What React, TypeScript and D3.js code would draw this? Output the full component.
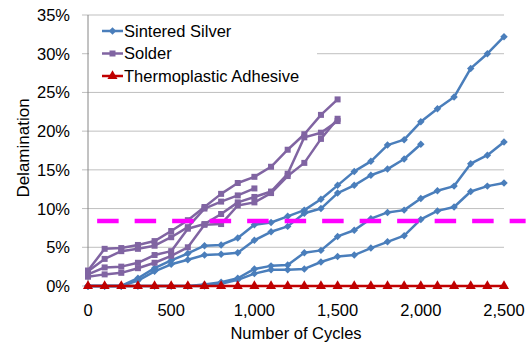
import React from "react";
import * as d3 from "d3";

const width = 531;
const height = 344;
const margin = { top: 15, right: 25, bottom: 58, left: 88 };

// cycles 0, 100, 200 ... per run
const silverRuns = [
  [0, 0, 0, 1.0, 2.3, 3.3, 4.2, 5.2, 5.3, 6.2, 7.9, 8.2, 9.0, 9.8, 11.2, 13.0, 14.8, 16.1, 18.2, 18.9, 21.2, 22.9, 24.4, 28.1, 30.0, 32.2],
  [0, 0, 0, 0.7, 1.9, 2.8, 3.4, 4.0, 4.1, 4.3, 5.9, 7.0, 7.7, 9.4, 10.0, 12.0, 13.0, 14.3, 15.1, 16.4, 18.3],
  [0, 0, 0, 0, 0, 0, 0, 0.2, 0.5, 1.0, 2.2, 2.6, 2.7, 4.3, 4.6, 6.4, 7.2, 8.7, 9.5, 9.8, 11.3, 12.3, 12.9, 15.8, 16.9, 18.6],
  [0, 0, 0, 0, 0, 0, 0, 0, 0.3, 0.8, 1.6, 2.1, 2.1, 2.2, 3.1, 3.8, 4.0, 4.9, 5.7, 6.5, 8.6, 9.7, 10.2, 12.2, 12.9, 13.3],
];
const solderRuns = [
  [2.0, 4.8, 4.9, 5.3, 5.8, 7.1, 8.5, 10.2, 11.9, 13.3, 14.1, 15.4, 17.6, 19.6, 22.1, 24.1],
  [1.9, 3.5, 4.5, 4.8, 5.2, 6.3, 7.6, 10.0, 10.9, 11.7, 12.6],
  [1.5, 2.4, 2.5, 3.0, 4.0, 4.5, 7.4, 8.0, 9.3, 10.8, 11.5, 12.2, 14.5, 19.2, 19.8, 21.3],
  [1.2, 1.5, 1.7, 2.3, 3.0, 3.9, 5.0, 7.9, 8.0, 10.4, 10.8, 12.0, 14.2, 15.9, 19.0, 21.6],
];
const adhesiveRuns = [
  [0, 0, 0, 0, 0, 0, 0, 0, 0, 0, 0, 0, 0, 0, 0, 0, 0, 0, 0, 0, 0, 0, 0, 0, 0, 0],
];
const cycleStep = 100;
const threshold = 8.4;
const thresholdRange = [55, 2630];
const xTicks = [0, 500, 1000, 1500, 2000, 2500];
const yTicks = [0, 5, 10, 15, 20, 25, 30, 35];
const legendNames = ["Sintered Silver", "Solder", "Thermoplastic Adhesive"];

const blue = "#4A7EBB";
const purple = "#8064A2";
const red = "#C00000";
const font = "'Liberation Sans', Arial, sans-serif";

const x = d3.scaleLinear().domain([0, 2500]).range([margin.left, width - margin.right - 2]);
const y = d3.scaleLinear().domain([0, 35]).range([height - margin.bottom, margin.top]);

const line = d3.line<number>()
  .x((d, i) => x(i * cycleStep))
  .y(d => y(d));

const diamond = d3.symbol().type(d3.symbolSquare).size(28)();
const square = d3.symbol().type(d3.symbolSquare).size(36)();
const triangle = d3.symbol().type(d3.symbolTriangle).size(44)();

const groups = [
  { runs: silverRuns, color: blue, marker: diamond, rot: 45 },
  { runs: solderRuns, color: purple, marker: square, rot: 0 },
  { runs: adhesiveRuns, color: red, marker: triangle, rot: 0 },
];

export default function App() {
  const legendX = 102;
  const legendY = [31, 53.5, 76];
  return (
    <svg width={width} height={height} style={{ position: "absolute", left: 0, top: 0, background: "#fff" }}
      fontFamily={font}>
      {yTicks.map(t => (
        <g key={t}>
          <line x1={x(0) - 6} x2={x(2500)} y1={y(t)} y2={y(t)} stroke="#BFBFBF" strokeWidth={1} />
          <text x={70} y={y(t)} dy="0.36em" textAnchor="end" fontSize={16.5} fill="#000">{t}%</text>
        </g>
      ))}
      <line x1={x(0)} x2={x(0)} y1={y(0)} y2={y(35)} stroke="#868686" />
      <line x1={x(0)} x2={x(2500)} y1={y(0)} y2={y(0)} stroke="#868686" />
      {xTicks.map(t => (
        <text key={t} x={x(t)} y={316} textAnchor="middle" fontSize={16.5}>{d3.format(",")(t)}</text>
      ))}
      <text x={(x(0) + x(2500)) / 2} y={339} textAnchor="middle" fontSize={16.5}>Number of Cycles</text>
      <text transform={`translate(29,${148}) rotate(-90)`} textAnchor="middle" fontSize={17}>Delamination</text>

      {/* legend box hides the gridline behind it */}
      <rect x={x(0) + 1} y={19} width={228} height={68} fill="#fff" />
      {legendNames.map((name, i) => (
        <g key={name}>
          <line x1={legendX} x2={legendX + 21} y1={legendY[i]} y2={legendY[i]} stroke={groups[i].color} strokeWidth={2.5} />
          <path d={groups[i].marker} transform={`translate(${legendX + 10.5},${legendY[i]}) rotate(${groups[i].rot})`} fill={groups[i].color} />
          <text x={legendX + 22} y={legendY[i]} dy="0.36em" fontSize={16.5}>{name}</text>
        </g>
      ))}

      {groups.map((g, gi) => (
        <g key={gi}>
          {g.runs.map((run, ri) => (
            <g key={ri}>
              <path d={line(run) || ""} fill="none" stroke={g.color} strokeWidth={2.5} strokeLinejoin="round" />
              {run.map((v, i) => (
                <path key={i} d={g.marker} fill={g.color}
                  transform={`translate(${x(i * cycleStep)},${y(v)}) rotate(${g.rot})`} />
              ))}
            </g>
          ))}
        </g>
      ))}

      <line x1={x(thresholdRange[0])} x2={x(thresholdRange[1])} y1={y(threshold)} y2={y(threshold)}
        stroke="#FF00FF" strokeWidth={4.5} strokeDasharray="21.5 16" />
    </svg>
  );
}
